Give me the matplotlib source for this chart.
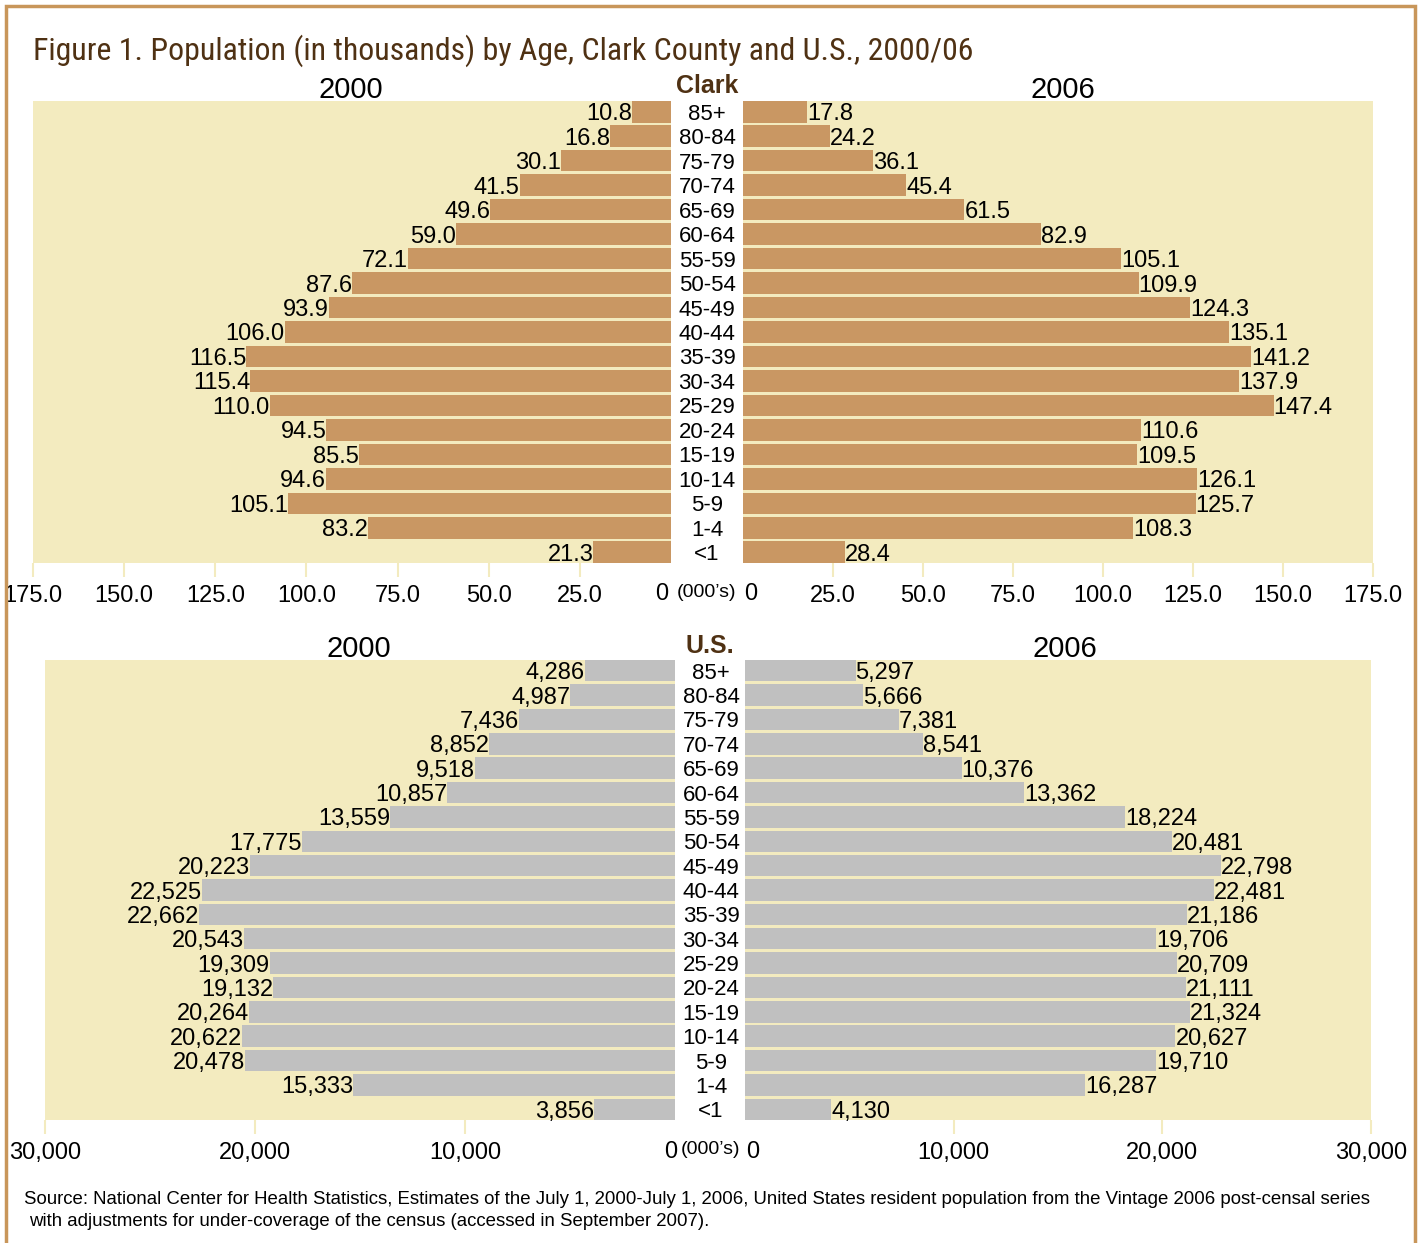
import matplotlib
matplotlib.use("Agg")
import matplotlib.pyplot as plt
from matplotlib import font_manager
from matplotlib.patches import Rectangle
from matplotlib.transforms import blended_transform_factory, offset_copy

# ---------------- data ----------------
ages = ['85+', '80-84', '75-79', '70-74', '65-69', '60-64', '55-59', '50-54', '45-49',
        '40-44', '35-39', '30-34', '25-29', '20-24', '15-19', '10-14', '5-9', '1-4', '<1']
clark_2000 = [10.8, 16.8, 30.1, 41.5, 49.6, 59.0, 72.1, 87.6, 93.9, 106.0, 116.5, 115.4,
              110.0, 94.5, 85.5, 94.6, 105.1, 83.2, 21.3]
clark_2006 = [17.8, 24.2, 36.1, 45.4, 61.5, 82.9, 105.1, 109.9, 124.3, 135.1, 141.2, 137.9,
              147.4, 110.6, 109.5, 126.1, 125.7, 108.3, 28.4]
us_2000 = [4286, 4987, 7436, 8852, 9518, 10857, 13559, 17775, 20223, 22525, 22662, 20543,
           19309, 19132, 20264, 20622, 20478, 15333, 3856]
us_2006 = [5297, 5666, 7381, 8541, 10376, 13362, 18224, 20481, 22798, 22481, 21186, 19706,
           20709, 21111, 21324, 20627, 19710, 16287, 4130]
clark_ticks = [175, 150, 125, 100, 75, 50, 25]
us_ticks = [30000, 20000, 10000]

title = "Figure 1. Population (in thousands) by Age, Clark County and U.S., 2000/06"
source = ("Source: National Center for Health Statistics, Estimates of the July 1, 2000-July 1, 2006, "
          "United States resident population from the Vintage 2006 post-censal series")
source2 = "with adjustments for under-coverage of the census (accessed in September 2007)."

# ---------------- style ----------------
W, H = 1422, 1243
BAR_TAN = '#C99763'
BAR_GREY = '#C0C0C0'
BG = '#F3EBBF'
BROWN = '#4F3113'
BORDER = '#C8965A'

names = {f.name for f in font_manager.fontManager.ttflist}
SANS = 'Liberation Sans' if 'Liberation Sans' in names else 'DejaVu Sans'
title_font = SANS
for cand in ['Liberation Sans Narrow', 'DejaVu Sans Condensed', 'Roboto Condensed',
             'Open Sans Condensed', 'DejaVu Sans']:
    if cand in names:
        title_font = cand
        break
plt.rcParams['font.family'] = [SANS, 'DejaVu Sans']

fig = plt.figure(figsize=(W / 100, H / 100), dpi=100)
fig.patch.set_facecolor('white')


def rect(x0, y0, x1, y1):
    return [x0 / W, 1 - y1 / H, (x1 - x0) / W, (y1 - y0) / H]


BH = 0.88
n = len(ages)
ypos = [n - 1 - i for i in range(n)]


def panel(r, values, xmax, side, color, ticks, fmt, pad):
    ax = fig.add_axes(rect(*r))
    ax.set_facecolor(BG)
    ax.barh(ypos, values, height=BH, color=color, linewidth=0)
    if side == 'left':
        ax.set_xlim(xmax, 0)
    else:
        ax.set_xlim(0, xmax)
    ax.set_ylim(-BH / 2, n - 1 + BH / 2)
    for s in ax.spines.values():
        s.set_visible(False)
    ax.set_yticks([])
    ax.set_xticks(ticks)
    ax.set_xticklabels([fmt(t) for t in ticks])
    ax.tick_params(axis='x', length=10, width=1.5, color=BG, labelsize=17, pad=pad)
    for tl in ax.xaxis.get_ticklines():
        tl.set_color(BG)
        tl.set_markeredgecolor(BG)
    tdown = offset_copy(ax.transData, fig=fig, x=0, y=-2.5, units='dots')
    for y, v in zip(ypos, values):
        ax.text(v, y, fmt(v), ha='right' if side == 'left' else 'left', va='center',
                fontsize=17, color='black', clip_on=False, transform=tdown)
    return ax


f1 = lambda v: f"{v:.1f}"
fc = lambda v: f"{int(v):,}"

axCL = panel((33, 101, 671, 563), clark_2000, 175, 'left', BAR_TAN, clark_ticks, f1, 6)
axCR = panel((743, 101, 1373, 563), clark_2006, 175, 'right', BAR_TAN, clark_ticks, f1, 6)
axUL = panel((45, 660, 675, 1120), us_2000, 30000, 'left', BAR_GREY, us_ticks, fc, 6)
axUR = panel((745, 660, 1371, 1120), us_2006, 30000, 'right', BAR_GREY, us_ticks, fc, 6)

# age labels in center column
for ax, xc in [(axCR, 707), (axUR, 711)]:
    tr = blended_transform_factory(fig.transFigure, ax.transData)
    tr = offset_copy(tr, fig=fig, x=0, y=-2.5, units='dots')
    for y, a in zip(ypos, ages):
        ax.text(xc / W, y, a, transform=tr, ha='center', va='center', fontsize=16,
                clip_on=False)


def ftxt(x, y, s, **kw):
    return fig.text(x / W, 1 - y / H, s, **kw)


# zero labels and units
ftxt(668, 594, '0', ha='right', va='center', fontsize=17)
ftxt(744, 594, '0', ha='left', va='center', fontsize=17)
ftxt(707, 592, '(000\u2019s)', ha='center', va='center', fontsize=14)
ftxt(677, 1152, '0', ha='right', va='center', fontsize=17)
ftxt(746, 1152, '0', ha='left', va='center', fontsize=17)
ftxt(711, 1150, '(000\u2019s)', ha='center', va='center', fontsize=14)

# year & region labels
ftxt(351, 90, '2000', ha='center', va='center', fontsize=21)
ftxt(1063, 90, '2006', ha='center', va='center', fontsize=21)
ftxt(359, 649, '2000', ha='center', va='center', fontsize=21)
ftxt(1065, 649, '2006', ha='center', va='center', fontsize=21)
ftxt(707, 86, 'Clark', ha='center', va='center', fontsize=18, fontweight='bold', color=BROWN)
ftxt(710, 646, 'U.S.', ha='center', va='center', fontsize=18, fontweight='bold', color=BROWN)

# title and source
t = ftxt(33, 51, title, ha='left', va='center', fontsize=19, color=BROWN,
         family=[title_font, 'DejaVu Sans'])
s1 = ftxt(24, 1200, source, ha='left', va='center', fontsize=12)
s2 = ftxt(29, 1221, source2, ha='left', va='center', fontsize=12)

fig.canvas.draw()
r = fig.canvas.get_renderer()
for txt, target in [(t, 942), (s1, 1350)]:
    w = txt.get_window_extent(r).width
    txt.set_fontsize(txt.get_fontsize() * target / w)
s2.set_fontsize(s1.get_fontsize())

fig.add_artist(Rectangle((6 / W, -0.02), (1415 - 6) / W, 1 - 6 / H + 0.02,
                         transform=fig.transFigure, fill=False, edgecolor=BORDER, lw=2.5))

fig.savefig('out.png', dpi=100, facecolor='white')
